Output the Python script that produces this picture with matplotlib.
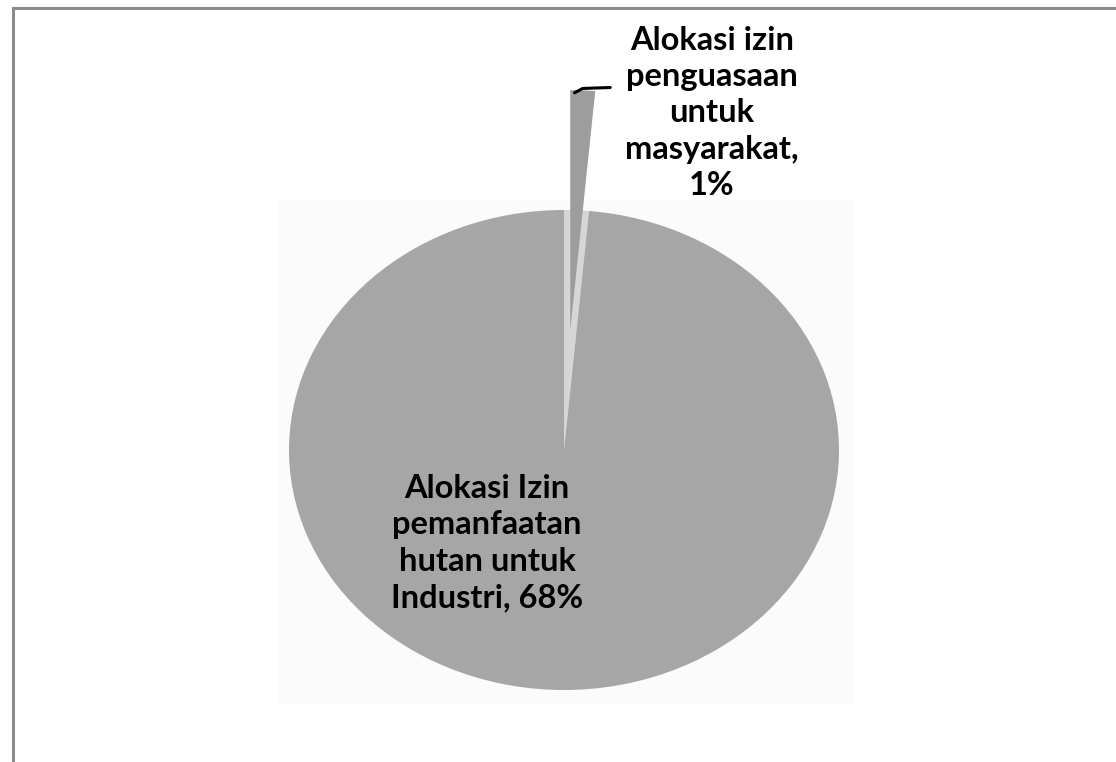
import matplotlib
matplotlib.use("Agg")
import matplotlib.pyplot as plt
from matplotlib.lines import Line2D
from matplotlib.patches import Rectangle, Wedge
import numpy as np

# Share of forest permits by allocation
labels = ["Alokasi izin\npenguasaan\nuntuk\nmasyarakat,\n1%",
          "Alokasi Izin\npemanfaatan\nhutan untuk\nIndustri, 68%"]
values = [1, 68]
colors = ["#9d9d9d", "#a6a6a6"]
explode = [0.5, 0.0]

W, H = 1116, 762
fig = plt.figure(figsize=(W / 100, H / 100), dpi=100)
fig.patch.set_facecolor("white")

# axes spans the whole figure; pixel -> data mapping gives an elliptical pie
cx, cy, rx, ry = 564, 450, 275, 240
ax = fig.add_axes([0, 0, 1, 1])
wedges, _ = ax.pie(values, colors=colors, explode=explode, startangle=90,
                   counterclock=False, wedgeprops=dict(linewidth=0))
ax.set_aspect("auto")
ax.set_xlim(-cx / rx, (W - cx) / rx)
ax.set_ylim((cy - H) / ry, cy / ry)
ax.axis("off")

# faint plot-area background behind the pie
ax.add_patch(Rectangle(((279 - cx) / rx, (cy - 704) / ry), (854 - 279) / rx, (704 - 200) / ry,
                       facecolor="#fbfbfb", edgecolor="none", zorder=-5))

# soft light-grey shadow where the exploded slice left the pie
w = wedges[0]
ax.add_patch(Wedge((0, 0), 1, w.theta1, w.theta2, facecolor="#d6d6d6",
                   edgecolor="none", zorder=-1))

font = ["Lato", "DejaVu Sans"]

# leader line from the tip of the exploded wedge to its label
mid = np.deg2rad((w.theta1 + w.theta2) / 2)
tx, ty = w.center[0] + w.r * np.cos(mid), w.center[1] + w.r * np.sin(mid)
ax.plot([tx - 0.03, tx + 0.0, tx + 0.1], [ty - 0.01, ty + 0.008, ty + 0.012],
        color="black", lw=2.2, solid_capstyle="round", zorder=5)

ax.text((712 - cx) / rx, (cy - 113) / ry, labels[0], ha="center", va="center",
        fontsize=23.5, fontweight="bold", family=font, linespacing=1.31, zorder=6)
ax.text((487 - cx) / rx, (cy - 543) / ry, labels[1], ha="center", va="center",
        fontsize=23.5, fontweight="bold", family=font, linespacing=1.31, zorder=6)

# frame lines along the top and left
fig.add_artist(Line2D([13 / W, 1], [1 - 8 / H, 1 - 8 / H], color="#8c8c8c", lw=2.2))
fig.add_artist(Line2D([13 / W, 13 / W], [0, 1 - 8 / H], color="#8c8c8c", lw=2.2))

fig.savefig("out.png", dpi=100, facecolor="white")
